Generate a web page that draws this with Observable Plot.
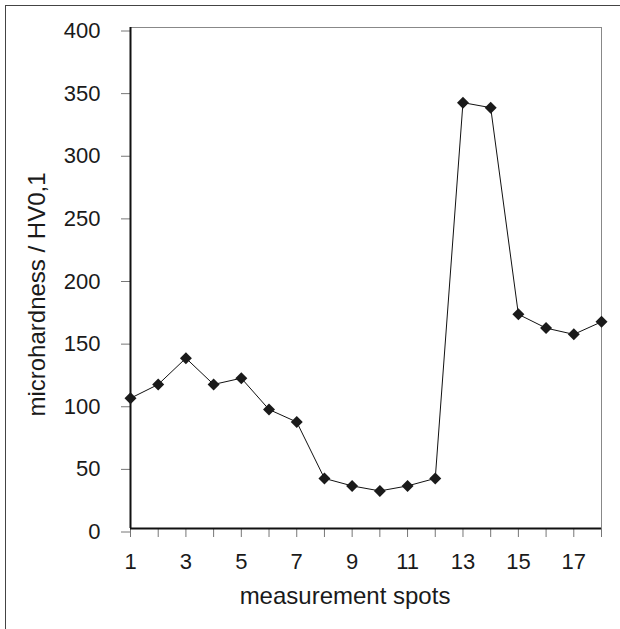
<!DOCTYPE html>
<html>
<head>
<meta charset="utf-8">
<script src="https://cdn.jsdelivr.net/npm/d3@7"></script>
<script src="https://cdn.jsdelivr.net/npm/@observablehq/plot@0.6"></script>
<style>
  html, body { margin: 0; padding: 0; background: #fff; }
  #wrap { position: relative; width: 620px; height: 629px; overflow: hidden; }
  #border { position: absolute; left: 5px; top: 5px; width: 700px; height: 700px;
            border-left: 1px solid #444; border-top: 1px solid #444; pointer-events: none; }
</style>
</head>
<body>
<div id="wrap"><div id="border"></div><div id="chart"></div></div>
<script>
const spots = [1,2,3,4,5,6,7,8,9,10,11,12,13,14,15,16,17,18];
const hardness = [104,115,136,115,120,95,85,40,34,30,34,40,340,336,171,160,155,165];
const yTicks = [0,50,100,150,200,250,300,350,400];
const xTickMarks = spots;
const xTickLabels = [1,3,5,7,9,11,13,15,17];

const data = spots.map((s, i) => ({spot: s, hv: hardness[i]}));

const chart = Plot.plot({
  width: 620,
  height: 629,
  marginLeft: 130,
  marginRight: 19,
  marginTop: 27,
  marginBottom: 101,
  style: {fontFamily: "'Liberation Sans', Arial, sans-serif", fontSize: "22px", color: "#1a1a1a", background: "#fff"},
  x: {domain: [1, 18]},
  y: {domain: [0, 400]},
  marks: [
    Plot.frame({stroke: "#888", strokeWidth: 1}),
    Plot.axisY({ticks: yTicks, tickSize: 9, tickPadding: 21, dy: 3.5, stroke: "#777", fontSize: 22, label: null}),
    Plot.axisX({ticks: xTickMarks, tickSize: 9, tickFormat: () => "", stroke: "#777", label: null}),
    Plot.axisX({ticks: xTickLabels, tickSize: 0, tickPadding: 25, fontSize: 22, label: null}),
    Plot.ruleX([1], {stroke: "#111", strokeWidth: 2}),
    Plot.ruleY([0], {stroke: "#111", strokeWidth: 2}),
    Plot.text(["microhardness / HV0,1"], {frameAnchor: "left", textAnchor: "middle", dx: -93, dy: 16.5, rotate: -90, fontSize: 24, fill: "#1a1a1a"}),
    Plot.text(["measurement spots"], {frameAnchor: "bottom", dx: -21, dy: 75, fontSize: 24, fill: "#1a1a1a"}),
    Plot.line(data, {x: "spot", y: "hv", stroke: "#111", strokeWidth: 1}),
    Plot.dot(data, {x: "spot", y: "hv", symbol: "diamond2", r: 5.4, fill: "#1a1a1a", stroke: "none"})
  ]
});
document.getElementById("chart").appendChild(chart);
</script>
</body>
</html>
